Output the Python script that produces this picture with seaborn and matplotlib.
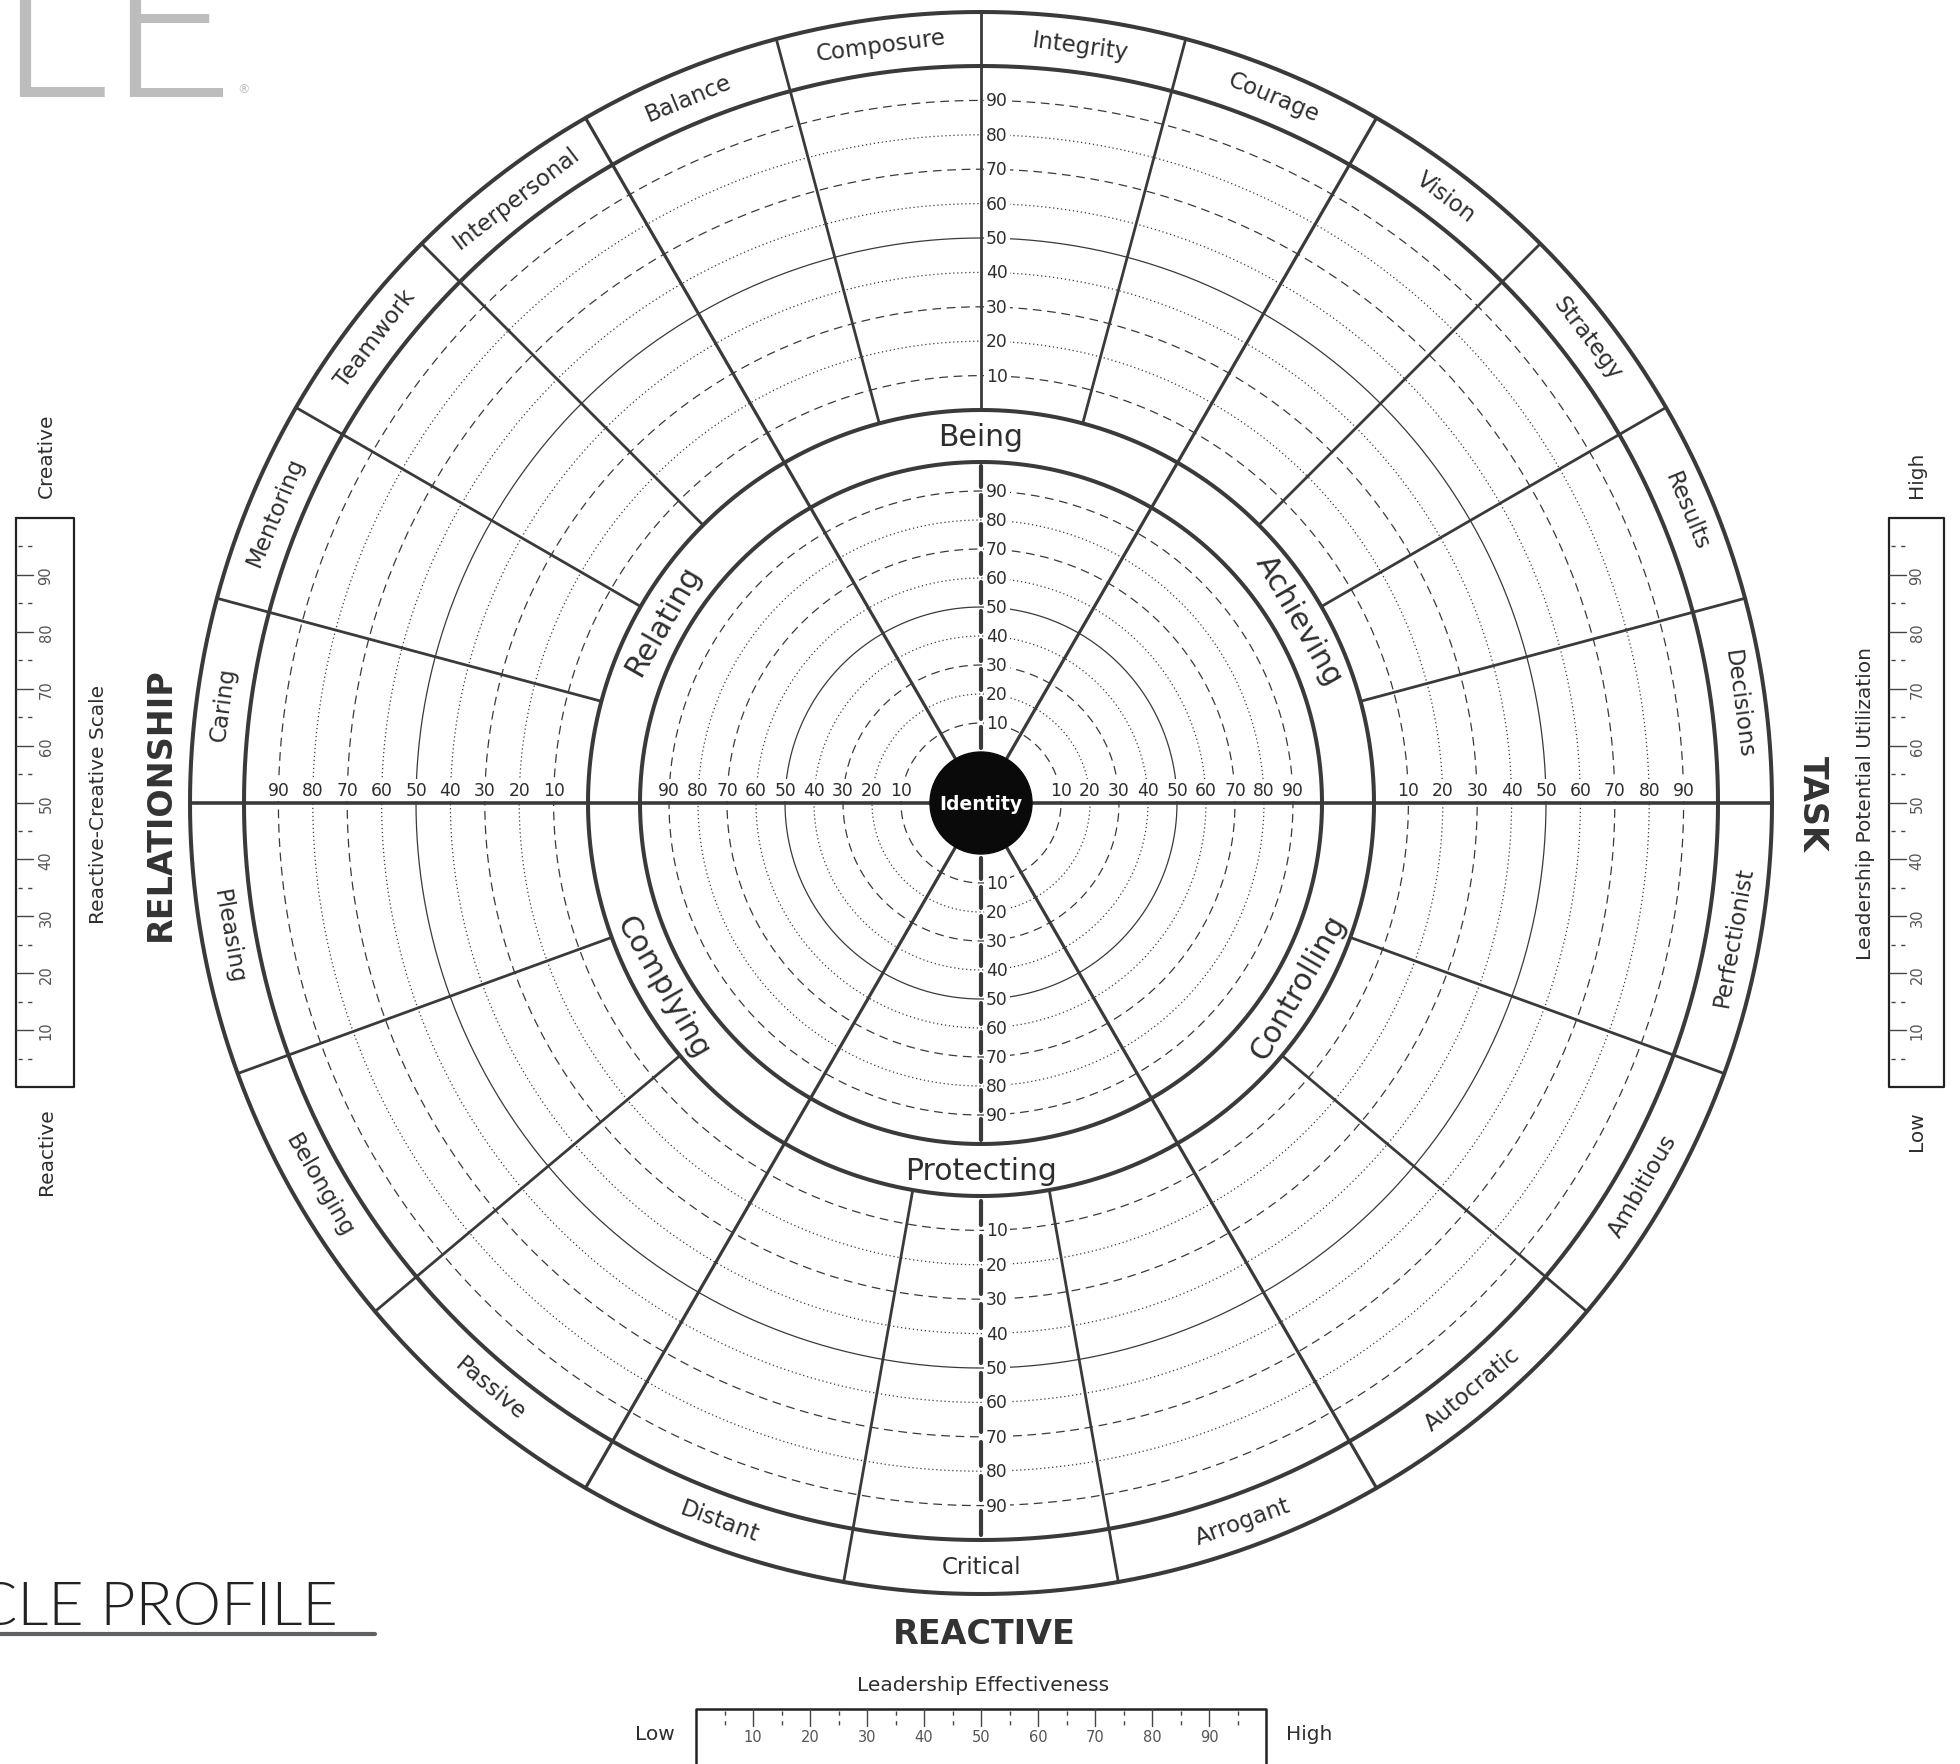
import numpy as np
import pandas as pd
import matplotlib
matplotlib.use("Agg")
import matplotlib.pyplot as plt
from matplotlib.patches import Circle
import seaborn as sns

sns.set_theme(style="white")
plt.rcParams["font.family"] = ["DejaVu Sans"]

# ---- chart content -------------------------------------------------------
# outer band, creative half, counter-clockwise from 3 o'clock
creative_labels = ["Decisions", "Results", "Strategy", "Vision", "Courage", "Integrity",
                   "Composure", "Balance", "Interpersonal", "Teamwork", "Mentoring", "Caring"]
# outer band, reactive half, counter-clockwise from 9 o'clock
reactive_labels = ["Pleasing", "Belonging", "Passive", "Distant", "Critical", "Arrogant",
                   "Autocratic", "Ambitious", "Perfectionist"]
# inner band, counter-clockwise from 3 o'clock
inner_labels = ["Achieving", "Being", "Relating", "Complying", "Protecting", "Controlling"]

ring_values = [10, 20, 30, 40, 50, 60, 70, 80, 90]
ring_kinds = ["dashed", "dotted", "dashed", "dotted", "solid", "dotted", "dashed", "dotted", "dashed"]
scale_major = [10, 20, 30, 40, 50, 60, 70, 80, 90]
scale_minor = [5, 15, 25, 35, 45, 55, 65, 75, 85, 95]

# ---- layout (pixels) -----------------------------------------------------
W, H = 1960, 1765
CX, CY = 981, 804
R_ID, R_IN, R_BAND, R_OUT, R_EDGE = 51, 341, 393, 737, 791
INK = "#3a3a3a"
TEXT = "#2e2e2e"


def inner_r(v):
    return R_ID + (R_IN - R_ID) * np.asarray(v) / 100


def outer_r(v):
    return R_BAND + (R_OUT - R_BAND) * np.asarray(v) / 100


def polar(r, deg):
    t = np.deg2rad(deg)
    return CX + r * np.cos(t), CY - r * np.sin(t)


def segments(spec):
    frames = []
    for i, (r0, r1, deg) in enumerate(spec):
        x, y = polar(np.array([r0, r1]), deg)
        frames.append(pd.DataFrame({"x": x, "y": y, "seg": i}))
    return pd.concat(frames, ignore_index=True)


def draw_segments(spec, lw, z, **kw):
    sns.lineplot(data=segments(spec), x="x", y="y", units="seg", estimator=None, sort=False,
                 color=INK, linewidth=lw, zorder=z, legend=False, ax=ax, **kw)


fig = plt.figure(figsize=(W / 100, H / 100), dpi=100)
ax = fig.add_axes([0, 0, 1, 1])

# ---- scale rings ---------------------------------------------------------
theta = np.linspace(0, 360, 1441)
ring_frames = []
for region, rfunc in (("inner", inner_r), ("outer", outer_r)):
    for v, kind in zip(ring_values, ring_kinds):
        x, y = polar(rfunc(v), theta)
        ring_frames.append(pd.DataFrame({"x": x, "y": y, "ring": f"{region}-{v}", "kind": kind}))
rings = pd.concat(ring_frames, ignore_index=True)
sns.lineplot(data=rings, x="x", y="y", units="ring", style="kind", estimator=None, sort=False,
             dashes={"solid": "", "dashed": (7, 4.5), "dotted": (1, 2.2)},
             color=INK, linewidth=0.9, legend=False, zorder=1, ax=ax)

# ---- band circles --------------------------------------------------------
band_frames = []
for r in (R_IN, R_BAND, R_OUT, R_EDGE):
    x, y = polar(r, theta)
    band_frames.append(pd.DataFrame({"x": x, "y": y, "ring": r}))
sns.lineplot(data=pd.concat(band_frames, ignore_index=True), x="x", y="y", units="ring",
             estimator=None, sort=False, color=INK, linewidth=2.9, legend=False, zorder=3, ax=ax)

# ---- sector dividers -----------------------------------------------------
n_top, n_bot = len(creative_labels), len(reactive_labels)
main_angles = [60 * (k + 1) for k in range(len(inner_labels)) if (60 * (k + 1)) % 180 != 0]
sub_angles = [180 / n_top * k for k in range(1, n_top)] + [180 + 180 / n_bot * k for k in range(1, n_bot)]
sub_angles = [a for a in sub_angles if not any(abs(a - m) < 1e-6 for m in main_angles)]
draw_segments([(R_ID, R_EDGE, a) for a in main_angles], 2.3, 3)
draw_segments([(R_BAND, R_EDGE, a) for a in sub_angles], 2.0, 3)
draw_segments([(R_ID, R_EDGE, 0), (R_ID, R_EDGE, 180)], 2.6, 5)

# thick broken scale lines (inner top/bottom, outer bottom)
steps = [0] + scale_major
broken = [(inner_r(v + 1.5), inner_r(v + 8.5), 90) for v in steps]
broken += [(inner_r(v + 1.5), inner_r(v + 8.5), 270) for v in steps]
broken += [(outer_r(v + 1.5), outer_r(v + 8.5), 270) for v in steps]
draw_segments(broken, 3.0, 2)

# ---- scale numbers -------------------------------------------------------
lab_kw = dict(fontsize=12.3, color=TEXT, zorder=4,
              bbox=dict(boxstyle="square,pad=0.12", fc="white", ec="none"))
for v in scale_major:
    for rfunc in (inner_r, outer_r):
        r = float(rfunc(v))
        ax.text(CX - r, CY - 13, str(v), ha="center", va="center", **lab_kw)
        ax.text(CX + r, CY - 13, str(v), ha="center", va="center", **lab_kw)
        ax.text(CX + 5, CY - r, str(v), ha="left", va="center", **lab_kw)
        ax.text(CX + 5, CY + r, str(v), ha="left", va="center", **lab_kw)

# ---- band labels ---------------------------------------------------------
def band_label(text, deg, r, size):
    x, y = polar(r, deg)
    rot = deg - 90 if deg <= 180 else deg + 90
    ax.text(x, y, text, rotation=rot, rotation_mode="anchor", ha="center", va="center",
            fontsize=size, color=TEXT, zorder=4)


r_outer_lab = (R_OUT + R_EDGE) / 2
r_inner_lab = (R_IN + R_BAND) / 2
for k, lab in enumerate(creative_labels):
    band_label(lab, 180 / n_top * (k + 0.5), r_outer_lab, 16.5)
for k, lab in enumerate(reactive_labels):
    band_label(lab, 180 + 180 / n_bot * (k + 0.5), r_outer_lab, 16.5)
for k, lab in enumerate(inner_labels):
    band_label(lab, 60 * k + 30, r_inner_lab, 21.5)

# identity core
ax.add_patch(Circle((CX, CY), R_ID, fc="#0a0a0a", ec="#0a0a0a", zorder=6))
ax.text(CX, CY, "Identity", ha="center", va="center", fontsize=13.5, color="white",
        fontweight="semibold", zorder=7)

# quadrant titles
ax.text(160, CY, "RELATIONSHIP", rotation=90, ha="center", va="center", fontsize=24,
        fontweight="bold", color="#333333")
ax.text(1812, CY, "TASK", rotation=-90, ha="center", va="center", fontsize=24,
        fontweight="bold", color="#333333")
ax.text(984, 1635, "REACTIVE", ha="center", va="center", fontsize=24,
        fontweight="bold", color="#333333")

# ---- side and bottom gauges ----------------------------------------------
def vbox(x0, x1, y0, y1, lab_x):
    ax.plot([x0, x1, x1, x0, x0], [y0, y0, y1, y1, y0], color="#222222", lw=1.6)
    span = y1 - y0
    for v in scale_major:
        yy = y1 - span * v / 100
        ax.plot([x0, x0 + 17], [yy, yy], color="#444444", lw=1.0)
        ax.text(lab_x, yy, str(v), rotation=90, ha="center", va="center", fontsize=10.5, color="#555555")
    for v in scale_minor:
        yy = y1 - span * v / 100
        ax.plot([x0 + 2, x0 + 17], [yy, yy], color="#444444", lw=1.0, ls=(0, (3, 4)))


vbox(16, 74, 519, 1088, 46)
vbox(1889, 1944, 519, 1088, 1917)

bx0, bx1, by0 = 696, 1266, 1710
ax.plot([bx0, bx0, bx1, bx1], [H + 10, by0, by0, H + 10], color="#222222", lw=1.8)
for v in scale_major:
    xx = bx0 + (bx1 - bx0) * v / 100
    ax.plot([xx, xx], [by0, by0 + 17], color="#444444", lw=1.0)
    ax.text(xx, 1738, str(v), ha="center", va="center", fontsize=10.5, color="#555555")
for v in scale_minor:
    xx = bx0 + (bx1 - bx0) * v / 100
    ax.plot([xx, xx], [by0 + 2, by0 + 17], color="#444444", lw=1.0, ls=(0, (3, 4)))

side_kw = dict(fontsize=14.5, color=TEXT, ha="center", va="center")
ax.text(46, 456, "Creative", rotation=90, **side_kw)
ax.text(46, 1152, "Reactive", rotation=90, **side_kw)
ax.text(98, CY, "Reactive-Creative Scale", rotation=90, **side_kw)
ax.text(1916, 475, "High", rotation=90, **side_kw)
ax.text(1916, 1131, "Low", rotation=90, **side_kw)
ax.text(1865, CY, "Leadership Potential Utilization", rotation=90, **side_kw)
ax.text(983, 1686, "Leadership Effectiveness", **side_kw)
ax.text(655, 1735, "Low", **side_kw)
ax.text(1309, 1735, "High", **side_kw)

# ---- page furniture ------------------------------------------------------
ax.text(-4, 97, "LE", ha="left", va="baseline", fontsize=158, family="Lato",
        fontweight=300, color="#bdbdbd")
ax.text(237, 90, "®", ha="left", va="center", fontsize=9, color="#bdbdbd")
ax.text(338, 1625, "CLE PROFILE", ha="right", va="baseline", fontsize=44, family="Lato",
        fontweight=300, color="#222222")
ax.plot([0, 375], [1635, 1635], color="#5f6062", lw=3)

ax.set_xlim(0, W)
ax.set_ylim(H, 0)
ax.axis("off")
fig.savefig("out.png", dpi=100, facecolor="white")
